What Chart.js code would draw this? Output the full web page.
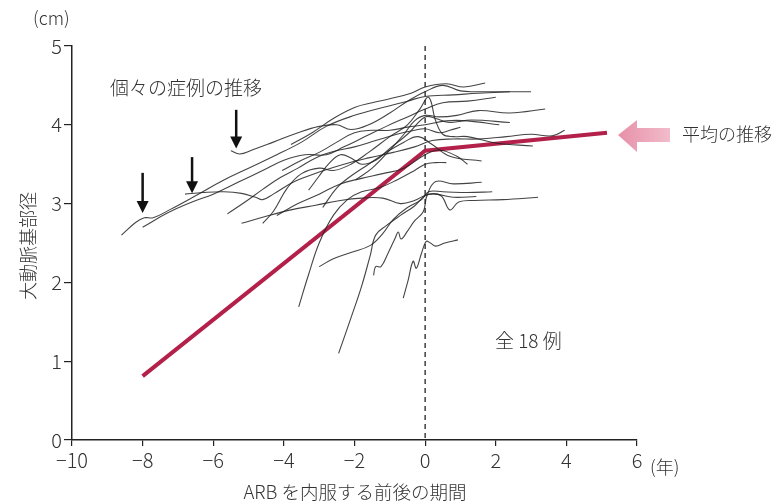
<!DOCTYPE html>
<html>
<head>
<meta charset="utf-8">
<script src="https://cdn.jsdelivr.net/npm/chart.js@4"></script>
<style>
  html, body { margin: 0; padding: 0; background: #fff; }
  #wrap { width: 775px; height: 503px; }
</style>
</head>
<body>
<div id="wrap"><canvas id="myChart" width="775" height="503"></canvas></div>
<script>
// 個々の症例 (年, cm)
const case01 = [[-8.6,2.6],[-8.2,2.76],[-7.95,2.82],[-7.7,2.82],[-7.2,2.93],[-6.5,3.1],[-5.7,3.3],[-5.0,3.45],[-4.2,3.62],[-3.5,3.78],[-2.8,3.98],[-2.0,4.12],[-1.2,4.22],[-0.5,4.3],[0,4.36],[0.8,4.38],[1.5,4.4],[2.4,4.42]];
const case02 = [[-8.0,2.7],[-7.3,2.88],[-6.6,3.02],[-6.0,3.12],[-5.3,3.27],[-4.6,3.42],[-4.0,3.55],[-3.4,3.62],[-2.8,3.62],[-2.3,3.72],[-1.7,3.85],[-1.1,3.98],[-0.5,4.1],[0,4.2],[0.5,4.28],[1.2,4.3],[2.0,4.35]];
const case03 = [[-6.8,3.12],[-6.3,3.14],[-5.7,3.15],[-5.2,3.13],[-4.8,3.08],[-4.6,3.05],[-4.3,3.12],[-3.7,3.28],[-3.0,3.4],[-2.3,3.5],[-1.6,3.58],[-0.9,3.65],[-0.3,3.72],[0.2,3.8],[0.8,3.82],[1.5,3.82],[2.3,3.85],[3.0,3.88],[3.6,3.86],[3.95,3.93]];
const case04 = [[-5.6,2.87],[-5.1,3.02],[-4.6,3.18],[-4.1,3.33],[-3.6,3.45],[-3.1,3.58],[-2.6,3.66],[-2.0,3.72],[-1.4,3.8],[-0.8,3.88],[-0.3,3.93],[0,3.95],[0.4,3.9],[0.7,3.93],[1.0,3.97]];
const case05 = [[-5.2,2.75],[-4.5,2.84],[-3.8,2.92],[-3.1,2.98],[-2.4,3.04],[-1.8,3.07],[-1.2,3.07],[-0.7,3.0],[-0.3,3.04],[0.1,3.12],[0.45,3.1],[0.7,2.92],[0.95,3.02],[1.4,3.04],[2.2,3.05],[3.2,3.08]];
const case06 = [[-5.5,3.67],[-5.25,3.63],[-4.9,3.68],[-4.3,3.78],[-3.6,3.9],[-3.0,3.98],[-2.5,4.0],[-2.1,3.94],[-1.6,4.0],[-1.0,4.15],[-0.5,4.3],[0,4.42],[0.5,4.5],[1.0,4.43],[1.5,4.42],[2.2,4.42],[3.0,4.42]];
const case07 = [[-4.6,2.75],[-4.3,2.9],[-3.9,3.2],[-3.5,3.38],[-3.0,3.45],[-2.6,3.42],[-2.1,3.5],[-1.6,3.65],[-1.0,3.85],[-0.5,4.0],[-0.15,4.2],[0.1,4.35],[0.3,4.05],[0.5,3.88],[0.8,3.85],[1.2,3.85],[2.0,3.77],[3.05,3.73]];
const case08 = [[-4.05,3.42],[-3.5,3.55],[-3.0,3.65],[-2.5,3.78],[-2.0,3.9],[-1.5,3.93],[-1.0,3.93],[-0.5,3.97],[0,4.0],[0.6,4.05],[1.2,4.05],[2.1,4.0]];
const case09 = [[-3.58,1.69],[-3.3,2.1],[-3.0,2.5],[-2.6,2.85],[-2.2,3.05],[-1.8,3.15],[-1.3,3.2],[-0.8,3.3],[-0.3,3.42],[0,3.5],[0.3,3.52],[0.6,3.52]];
const case10 = [[-3.0,2.2],[-2.6,2.3],[-2.1,2.38],[-1.55,2.47],[-1.2,2.62],[-0.9,2.8],[-0.5,2.95],[-0.1,3.05],[0.1,3.15],[0.5,3.15],[1.2,3.14],[1.9,3.15]];
const case11 = [[-2.45,1.1],[-2.1,1.55],[-1.8,1.95],[-1.55,2.35],[-1.4,2.6],[-1.1,2.72],[-0.7,2.85],[-0.3,2.97],[0,3.1],[0.3,3.12],[0.8,3.08],[1.45,3.09]];
const case12 = [[-1.46,2.09],[-1.4,2.2],[-1.25,2.2],[-1.05,2.37],[-0.85,2.56],[-0.76,2.64],[-0.68,2.55],[-0.5,2.65],[-0.3,2.78],[-0.05,2.9],[0.05,3.1],[0.3,3.28],[0.8,3.25],[1.6,3.27]];
const case13 = [[-0.62,1.8],[-0.48,2.03],[-0.34,2.27],[-0.25,2.18],[-0.11,2.36],[0.03,2.52],[0.15,2.5],[0.3,2.46],[0.56,2.5],[0.93,2.54]];
const case14 = [[-3.3,3.17],[-3.0,3.35],[-2.7,3.52],[-2.4,3.62],[-2.1,3.58],[-1.8,3.5],[-1.4,3.55],[-1.0,3.7],[-0.5,3.88],[0,4.1],[0.3,4.08],[0.7,4.03],[1.3,4.06],[2.4,4.03]];
const case15 = [[-1.97,3.3],[-1.5,3.45],[-1.0,3.68],[-0.6,3.88],[-0.3,4.05],[0,4.12],[0.4,4.1],[0.9,4.12],[1.5,4.18],[2.4,4.15],[3.4,4.2]];
const case16 = [[-4.2,2.85],[-3.6,3.0],[-3.0,3.12],[-2.4,3.25],[-1.8,3.32],[-1.2,3.38],[-0.6,3.45],[0,3.62],[0.4,3.68],[0.9,3.6],[1.2,3.5]];
const case17 = [[-2.9,2.95],[-2.5,3.2],[-2.1,3.35],[-1.6,3.5],[-1.1,3.65],[-0.6,3.78],[-0.2,3.85],[0.2,3.75],[0.7,3.6],[1.6,3.54]];
const case18 = [[-3.8,3.75],[-3.2,3.9],[-2.6,4.08],[-2.0,4.22],[-1.5,4.28],[-1.0,4.33],[-0.4,4.4],[0,4.48],[0.6,4.52],[1.1,4.48],[1.7,4.53]];
const cases = [case01, case02, case03, case04, case05, case06, case07, case08, case09,
               case10, case11, case12, case13, case14, case15, case16, case17, case18];

// 平均の推移
const meanX = [-8, 0, 5.15];
const meanY = [0.81, 3.67, 3.9];

// 軸
const xTicks = [-10, -8, -6, -4, -2, 0, 2, 4, 6];
const yTicks = [0, 1, 2, 3, 4, 5];

// 矢印 (x, 上端y, 先端y)
const arrows = [[-8.0, 3.39, 2.88], [-6.6, 3.59, 3.13], [-5.35, 4.19, 3.7]];

const FONT = '"Noto Sans CJK JP", "Noto Sans", sans-serif';
const TXT = "#333";

const datasets = cases.map((c) => ({
  data: c.map(([x, y]) => ({ x: x, y: y })),
  borderColor: "rgba(35,35,35,0.85)",
  borderWidth: 1.1,
  pointRadius: 0,
  tension: 0.4,
  fill: false,
}));
datasets.push({
  data: meanX.map((x, i) => ({ x: x, y: meanY[i] })),
  borderColor: "#b3214a",
  borderWidth: 4,
  pointRadius: 0,
  tension: 0,
  fill: false,
});

const decorations = {
  id: "decorations",
  beforeDatasetsDraw(chart) {
    const { ctx, chartArea, scales } = chart;
    // x=0 の破線
    const x0 = scales.x.getPixelForValue(0);
    ctx.save();
    ctx.strokeStyle = "#222";
    ctx.lineWidth = 1.3;
    ctx.setLineDash([5, 4]);
    ctx.beginPath();
    ctx.moveTo(x0, chartArea.top);
    ctx.lineTo(x0, chartArea.bottom);
    ctx.stroke();
    ctx.restore();
  },
  afterDraw(chart) {
    const { ctx, scales } = chart;
    ctx.save();
    ctx.fillStyle = TXT;
    ctx.textBaseline = "middle";
    ctx.textAlign = "left";

    ctx.font = "300 18px " + FONT;
    ctx.fillText("(cm)", 33, 18);
    ctx.fillText("(年)", 650, 467);

    ctx.font = "300 19px " + FONT;
    ctx.fillText("個々の症例の推移", 110, 88);
    ctx.font = "300 18px " + FONT;
    ctx.fillText("平均の推移", 682, 134);
    ctx.font = "300 19px " + FONT;
    ctx.fillText("全 18 例", 495, 341);

    ctx.font = "300 18.5px " + FONT;
    ctx.textAlign = "center";
    ctx.fillText("ARB を内服する前後の期間", 355, 492);

    ctx.save();
    ctx.translate(28, 246);
    ctx.rotate(-Math.PI / 2);
    ctx.font = "300 18px " + FONT;
    ctx.fillText("大動脈基部径", 0, 0);
    ctx.restore();

    // 黒い矢印
    ctx.fillStyle = "#111";
    ctx.strokeStyle = "#111";
    arrows.forEach(([ax, top, tip]) => {
      const px = scales.x.getPixelForValue(ax);
      const py1 = scales.y.getPixelForValue(top);
      const py2 = scales.y.getPixelForValue(tip);
      ctx.lineWidth = 2.5;
      ctx.beginPath();
      ctx.moveTo(px, py1);
      ctx.lineTo(px, py2 - 10);
      ctx.stroke();
      ctx.beginPath();
      ctx.moveTo(px - 6, py2 - 12);
      ctx.lineTo(px + 6, py2 - 12);
      ctx.lineTo(px, py2);
      ctx.closePath();
      ctx.fill();
    });

    // ピンクの矢印
    const g = ctx.createLinearGradient(618, 0, 670, 0);
    g.addColorStop(0, "#e690a8");
    g.addColorStop(1, "#f2bccb");
    ctx.fillStyle = g;
    ctx.beginPath();
    ctx.moveTo(618, 135);
    ctx.lineTo(637, 120);
    ctx.lineTo(637, 128);
    ctx.lineTo(670, 128);
    ctx.lineTo(670, 142);
    ctx.lineTo(637, 142);
    ctx.lineTo(637, 152);
    ctx.closePath();
    ctx.fill();
    ctx.restore();
  },
};

new Chart(document.getElementById("myChart"), {
  type: "line",
  data: { datasets: datasets },
  options: {
    responsive: false,
    animation: false,
    events: [],
    layout: { padding: { top: 46, right: 138, left: 0, bottom: 0 } },
    plugins: { legend: { display: false }, tooltip: { enabled: false } },
    scales: {
      x: {
        type: "linear",
        min: -10,
        max: 6,
        afterBuildTicks: (s) => { s.ticks = xTicks.map((v) => ({ value: v })); },
        afterFit: (s) => { s.height = 63; },
        ticks: {
          color: TXT,
          font: { family: FONT, size: 20, weight: 300 },
          padding: 2,
          maxRotation: 0,
          callback: (v) => (v < 0 ? "\u2212" + Math.abs(v) : String(v)),
        },
        grid: { drawOnChartArea: false, drawTicks: true, tickLength: 6, color: "#222", lineWidth: 1.2 },
        border: { color: "#222", width: 1.5 },
      },
      y: {
        min: 0,
        max: 5,
        afterBuildTicks: (s) => { s.ticks = yTicks.map((v) => ({ value: v })); },
        afterFit: (s) => { s.width = 72; },
        ticks: { color: TXT, font: { family: FONT, size: 20, weight: 300 }, padding: 2 },
        grid: { drawOnChartArea: false, drawTicks: true, tickLength: 8, color: "#222", lineWidth: 1.2 },
        border: { color: "#222", width: 1.5 },
      },
    },
  },
  plugins: [decorations],
});
</script>
</body>
</html>
